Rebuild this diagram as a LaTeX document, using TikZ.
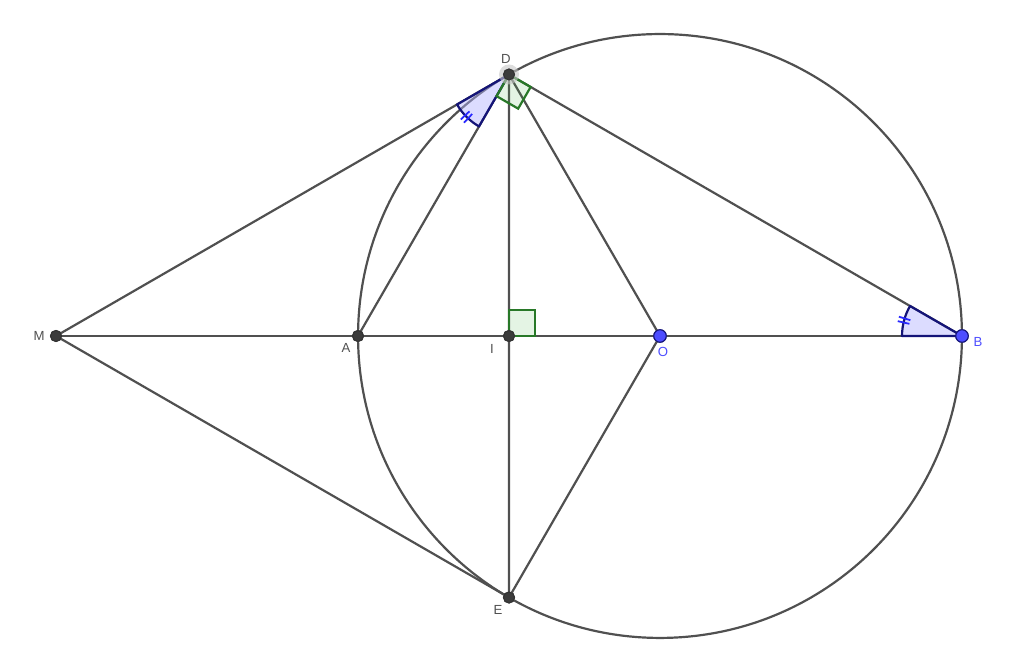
\documentclass[tikz,border=0pt]{standalone}
\usepackage{fontspec}
\setmainfont{Liberation Sans}
\usetikzlibrary{calc}
\definecolor{lin}{RGB}{80,80,80}
\definecolor{ptdark}{RGB}{60,60,60}
\definecolor{ptblue}{RGB}{77,77,255}
\definecolor{navy}{RGB}{20,20,120}
\definecolor{tick}{RGB}{40,40,255}
\definecolor{rgreen}{RGB}{40,120,40}
\tikzstyle{dot}=[circle,fill=ptdark,draw=black!80,line width=0.6pt,inner sep=0pt,minimum size=0.22cm]
\tikzstyle{bdot}=[circle,fill=ptblue,draw=navy,line width=0.6pt,inner sep=0pt,minimum size=0.25cm]
\tikzstyle{lbl}=[font=\fontsize{7.5}{9}\selectfont,text=lin,inner sep=0pt]
\tikzstyle{blbl}=[lbl,text=ptblue]
\tikzstyle{seg}=[lin,line width=1.25pt]
\tikzstyle{sector}=[draw=navy,fill=blue!30!white,fill opacity=0.45,line width=1.25pt,line join=round]
\tikzstyle{ticks}=[tick,line width=1pt]
\tikzstyle{rsq}=[draw=rgreen,fill=green!40!gray,fill opacity=0.15,line width=1.25pt]

\begin{document}
\begin{tikzpicture}[x=0.02cm,y=0.02cm]
        \useasboundingbox (0,0) rectangle (1024,661);
        \node[dot] (M) at (56,325) {};
        \node[dot] (A) at (358,325) {};
        \node[dot] (I) at (509,325) {};
        \node[bdot] (O) at (660,325) {};
        \node[bdot] (B) at (962,325) {};
        \node[dot] (D) at (509,586.5) {};
        \node[dot] (E) at (509,63.5) {};
        % circle and segments
        \draw[seg] (O.center) circle (6.04cm);
        \draw[seg] (M.center) -- (B.center);
        \draw[seg] (M.center) -- (D.center) -- (B.center);
        \draw[seg] (M.center) -- (E.center) -- (D.center);
        \draw[seg] (A.center) -- (D.center) -- (O.center) -- (E.center);
        % equal angles
        \draw[sector] (D.center) -- ++(210:1.2cm) arc[start angle=210,end angle=240,radius=1.2cm] -- cycle;
        \draw[sector] (B.center) -- ++(150:1.2cm) arc[start angle=150,end angle=180,radius=1.2cm] -- cycle;
        \foreach \a in {223,227} \draw[ticks] ($(D.center)+(\a:1.08cm)$) -- ($(D.center)+(\a:1.32cm)$);
        \foreach \a in {163,167} \draw[ticks] ($(B.center)+(\a:1.08cm)$) -- ($(B.center)+(\a:1.32cm)$);
        % right angles
        \coordinate (Da) at ($(D.center)!0.5cm!(A.center)$);
        \coordinate (Db) at ($(D.center)!0.5cm!(B.center)$);
        \draw[rsq] (D.center) -- (Da) -- ($(Da)+(Db)-(D.center)$) -- (Db) -- cycle;
        \draw[rsq] (I.center) rectangle ++(0.52cm,0.52cm);
        % redraw points on top
        \fill[gray!45,opacity=0.6] (D.center) circle (0.2cm);
        \foreach \p in {M,A,I,D,E} \node[dot] at (\p) {};
        \foreach \p in {O,B} \node[bdot] at (\p) {};
        % labels
        \node[lbl] (Dl) at (506,602) {D};
        \node[lbl] (Ml) at (39,325) {M};
        \node[lbl] (Al) at (346,313) {A};
        \node[lbl] (Il) at (492,312) {I};
        \node[blbl] (Ol) at (663,309) {O};
        \node[blbl] (Bl) at (978,319) {B};
        \node[lbl] (El) at (498,51) {E};
    \end{tikzpicture}
\end{document}
